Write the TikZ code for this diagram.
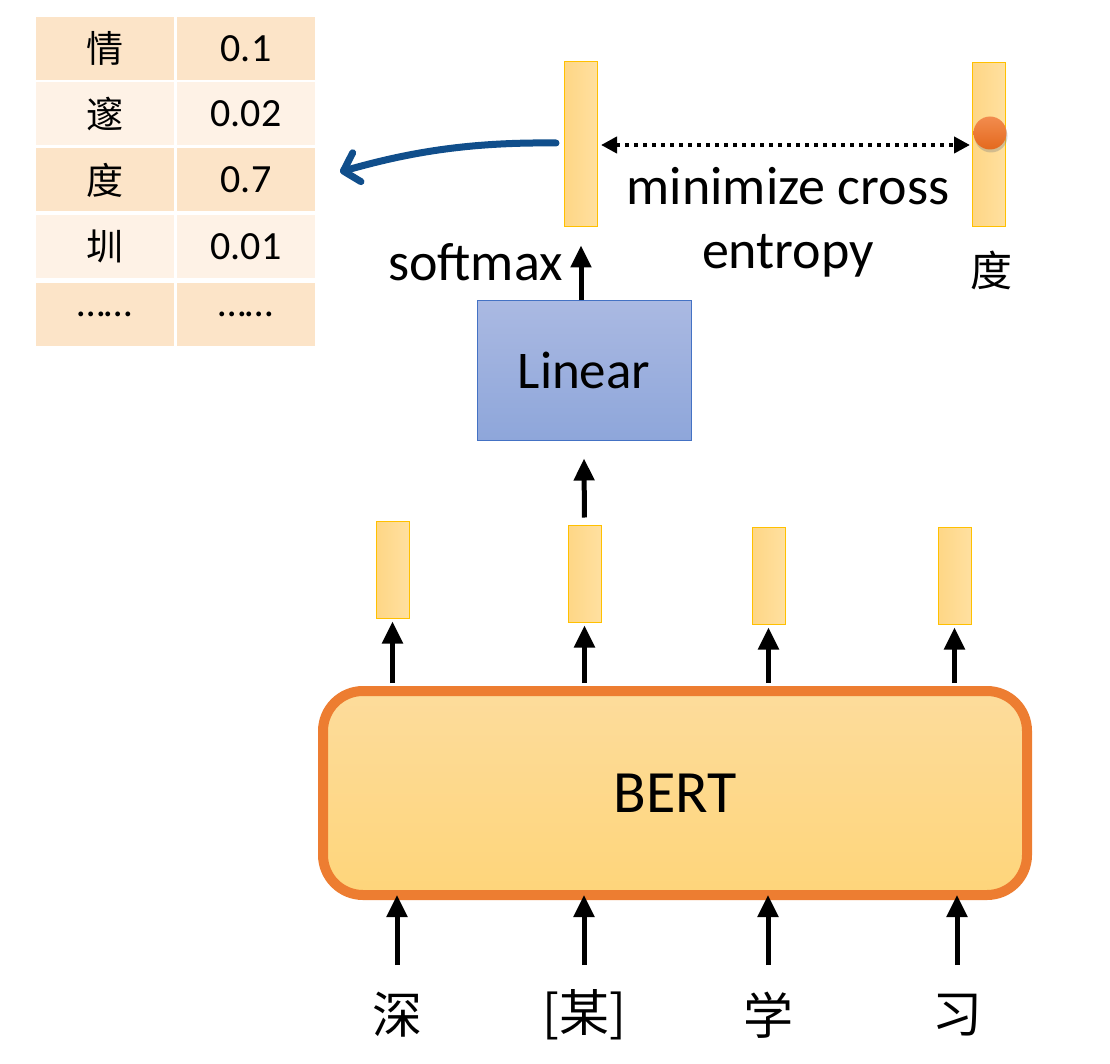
\documentclass[tikz,border=0pt]{standalone}
\usepackage{fontspec}
\setmainfont{Carlito}
\newfontfamily\cjk{Noto Sans CJK SC}
\usetikzlibrary{arrows.meta,shadows}
\definecolor{rowdark}{RGB}{252,228,200}
\definecolor{rowlight}{RGB}{254,242,230}
\definecolor{vecL}{RGB}{254,214,133}
\definecolor{vecR}{RGB}{255,224,160}
\definecolor{vecB}{RGB}{255,192,0}
\definecolor{bertT}{RGB}{253,220,156}
\definecolor{bertB}{RGB}{254,213,122}
\definecolor{bertO}{RGB}{237,125,49}
\definecolor{linT}{RGB}{170,185,226}
\definecolor{linB}{RGB}{142,166,218}
\definecolor{linO}{RGB}{68,114,196}
\definecolor{blueA}{RGB}{16,78,139}
\definecolor{dotT}{RGB}{242,140,78}
\definecolor{dotB}{RGB}{228,105,30}
\begin{document}
\begin{tikzpicture}[x=1pt,y=-1pt,
  cell/.style={minimum width=138pt, minimum height=63pt, inner sep=0pt},
  dk/.style={cell, fill=rowdark},
  lt/.style={cell, fill=rowlight},
  cjkcell/.style={font=\cjk\fontsize{37}{40}\selectfont},
  numcell/.style={font=\fontsize{40}{44}\selectfont},
  vec/.style={draw=vecB, line width=1pt, left color=vecL, right color=vecR, minimum width=33pt, inner sep=0pt},
  arr/.style={line width=5pt, -{Triangle[length=22pt,width=20pt]}},
  lbl/.style={font=\fontsize{54}{64}\selectfont, inner sep=0pt},
  word/.style={font=\cjk\fontsize{50}{56}\selectfont, inner sep=0pt}
]
\useasboundingbox (0,0) rectangle (1110,1064);

% table
\node[dk,cjkcell] (c11) at (105,48.5) {情};
\node[dk,numcell] (c12) at (246,48.5) {0.1};
\node[lt,cjkcell] (c21) at (105,114) {邃};
\node[lt,numcell] (c22) at (246,114) {0.02};
\node[dk,cjkcell] (c31) at (105,180) {度};
\node[dk,numcell] (c32) at (246,180) {0.7};
\node[lt,cjkcell] (c41) at (105,246.5) {圳};
\node[lt,numcell] (c42) at (246,246.5) {0.01};
\node[dk,numcell] (c51) at (105,314.5) {……};
\node[dk,numcell] (c52) at (246,314.5) {……};

% output vectors
\node[vec, minimum height=165pt] (v0) at (581,144.5) {};
\node[vec, minimum height=164pt] (t) at (989,145) {};
\node[circle, minimum size=33pt, inner sep=0pt, top color=dotT, bottom color=dotB,
      drop shadow={shadow xshift=1pt, shadow yshift=-3pt, opacity=0.35}] (dot) at (990,133) {};
\node[word, font=\cjk\fontsize{42}{48}\selectfont] (tl) at (991,270) {度};

% dotted double arrow
\draw[line width=4pt, dash pattern=on 4pt off 5pt,
      {Triangle[length=16pt,width=16pt]}-{Triangle[length=16pt,width=16pt]}]
  ([xshift=3pt]v0.east |- t.west) -- ([xshift=-2pt]t.west);
\node[lbl, align=center] (mce) at (788,222) {minimize cross\\entropy};

% blue arrow
\coordinate (tip) at (340,172);
\draw[blueA, line width=7pt, line cap=round, line join=round,
      -{Straight Barb[length=14pt,width=30pt,round]}]
  ([xshift=-8pt]v0.west |- 0,143) .. controls (470,142) and (410,152) .. (tip);

% Linear
\node[draw=linO, line width=1pt, top color=linT, bottom color=linB,
      minimum width=214pt, minimum height=139pt, inner sep=0pt,
      font=\fontsize{53}{60}\selectfont] (L) at (584,370.5) {Linear};
\draw[arr] (v0.south |- L.north) -- ([yshift=-18pt]v0.south);
\node[lbl, anchor=east] (sm) at (563,262) {softmax};

% hidden vectors
\node[vec, minimum height=97pt] (b1) at (392.5,569.5) {};
\node[vec, minimum height=97pt] (b2) at (584.5,573.5) {};
\node[vec, minimum height=97pt] (b3) at (768.5,575.5) {};
\node[vec, minimum height=97pt] (b4) at (954.5,575.5) {};

\draw[arr, shorten <=7pt] (b2.north) -- ([yshift=-18pt]L.south);

% BERT
\node[draw=bertO, line width=10pt, rounded corners=40pt, top color=bertT, bottom color=bertB,
      minimum width=704pt, minimum height=204pt, inner sep=0pt,
      font=\fontsize{60}{66}\selectfont] (BERT) at (675,793) {BERT};

\foreach \b in {b1,b2,b3,b4}
  \draw[arr] ([yshift=3pt]\b.south |- BERT.north) -- ([yshift=-3pt]\b.south);

% inputs
\coordinate (inrow) at (0,965);
\node[word] (w1) at (397,1015) {深};
\node[word] (w2) at (584,1015) {[某]};
\node[word] (w3) at (768,1015) {学};
\node[word] (w4) at (957,1015) {习};
\foreach \w in {w1,w2,w3,w4}
  \draw[arr] (\w |- inrow) -- ([yshift=5pt]\w |- BERT.south);
\end{tikzpicture}
\end{document}
